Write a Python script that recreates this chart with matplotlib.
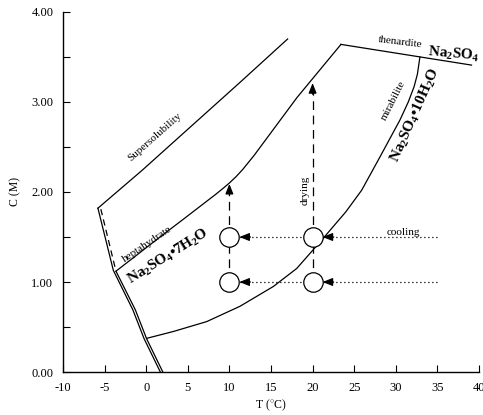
import numpy as np
import matplotlib
matplotlib.use('Agg')
import matplotlib.pyplot as plt

plt.rcParams['font.family'] = ['Liberation Serif', 'DejaVu Serif']
plt.rcParams['mathtext.fontset'] = 'custom'
plt.rcParams['mathtext.rm'] = 'Liberation Serif'
plt.rcParams['mathtext.it'] = 'Liberation Serif:italic'
plt.rcParams['mathtext.bf'] = 'Liberation Serif:bold'
plt.rcParams['axes.unicode_minus'] = False

# curves (T in degC, C in M)
supersol_T = [-5.8, -0.5, 11.3, 17.0]
supersol_C = [1.82, 2.24, 3.22, 3.70]

hepta_T = [-3.63, 1.66, 4.5, 6.47, 8.3, 9.3, 10.0, 10.8, 11.6, 13.0, 14.04, 18.13, 23.41]
hepta_C = [1.12, 1.50, 1.70, 1.84, 1.97, 2.045, 2.10, 2.17, 2.25, 2.41, 2.54, 3.05, 3.64]

thenardite_T = [23.41, 39.1]
thenardite_C = [3.64, 3.41]

mirab_T = [0.06, 3.26, 7.27, 11.27, 15.28, 18.09, 20.09, 21.5, 24.0, 25.9, 28.1, 30.5, 31.5, 32.2, 32.6, 32.9]
mirab_C = [0.374, 0.45, 0.56, 0.73, 0.95, 1.15, 1.36, 1.51, 1.78, 2.02, 2.39, 2.80, 3.00, 3.17, 3.31, 3.50]

ice_T = [-5.8, -3.95, -1.6, -0.25, 1.7]
ice_C = [1.82, 1.13, 0.69, 0.37, 0.0]
ice2_dash_T = [-5.45, -3.63]
ice2_dash_C = [1.81, 1.12]
ice2_T = [-3.63, -1.3, 0.05, 2.0]
ice2_C = [1.12, 0.69, 0.37, 0.0]

# experiment points and paths
circle_T = [10, 10, 20, 20]
circle_C = [1.5, 1.0, 1.5, 1.0]
drying_T = [10, 20]
drying_start = [1.0, 1.0]
drying_end = [2.09, 3.21]
cooling_C = [1.5, 1.0]
cooling_from = 35
cooling_tips = [21.2, 11.2]

fig = plt.figure(figsize=(4.83, 4.15), dpi=100)
ax = fig.add_axes([0.1304, 0.1036, 0.8613, 0.8675])

lw = 0.9
ax.plot(supersol_T, supersol_C, color='black', lw=lw)
ax.plot(hepta_T, hepta_C, color='black', lw=lw)
ax.plot(thenardite_T, thenardite_C, color='black', lw=lw)
ax.plot(mirab_T, mirab_C, color='black', lw=lw)
ax.plot(ice_T, ice_C, color='black', lw=lw)
ax.plot(ice2_T, ice2_C, color='black', lw=lw)
ax.plot(ice2_dash_T, ice2_dash_C, color='black', lw=lw, dashes=(5, 3.5))

head = '-|>,head_length=0.5,head_width=0.2'
for t, c0, c1 in zip(drying_T, drying_start, drying_end):
    ax.plot([t, t], [c0, c1 - 0.05], color='black', lw=lw, dashes=(7, 4.5), zorder=2)
    ax.annotate('', xy=(t, c1), xytext=(0, -8), textcoords='offset points',
                arrowprops=dict(arrowstyle=head, mutation_scale=12, lw=lw,
                                color='black', shrinkA=0, shrinkB=0))

for c in cooling_C:
    ax.plot([cooling_from, cooling_tips[-1]], [c, c], color='black', lw=lw,
            dashes=(1, 2.2), zorder=2)
    for tip in cooling_tips:
        ax.annotate('', xy=(tip, c), xytext=(8, 0), textcoords='offset points',
                    arrowprops=dict(arrowstyle=head, mutation_scale=12, lw=lw,
                                    color='black', shrinkA=0, shrinkB=0), zorder=6)

ax.plot(circle_T, circle_C, 'o', ms=14, mfc='white', mec='black', mew=lw, zorder=5)

# labels on the diagram
small = 8
ax.text(1.06, 2.61, 'Supersolubility', fontsize=small, rotation=41.5,
        ha='center', va='center', rotation_mode='anchor')
ax.text(0.06, 1.42, 'heptahydrate', fontsize=small, rotation=34,
        ha='center', va='center', rotation_mode='anchor')
ax.text(30.5, 3.66, 'thenardite', fontsize=small, rotation=-7,
        ha='center', va='center', rotation_mode='anchor')
ax.text(29.7, 3.02, 'mirabilite', fontsize=small, rotation=63,
        ha='center', va='center', rotation_mode='anchor')
ax.text(19.1, 2.02, 'drying', fontsize=small, rotation=90,
        ha='center', va='center', rotation_mode='anchor')
ax.text(30.9, 1.55, 'cooling', fontsize=small, ha='center', va='center')

big = 11
ax.text(2.7, 1.28, r'Na$_\mathbf{2}$SO$_\mathbf{4}$•7H$_\mathbf{2}$O', fontsize=big,
        fontweight='bold', rotation=32, ha='center', va='center', rotation_mode='anchor')
ax.text(32.4, 2.85, r'Na$_\mathbf{2}$SO$_\mathbf{4}$•10H$_\mathbf{2}$O', fontsize=big,
        fontweight='bold', rotation=66, ha='center', va='center', rotation_mode='anchor')
ax.text(37.0, 3.53, r'Na$_\mathbf{2}$SO$_\mathbf{4}$', fontsize=big,
        fontweight='bold', rotation=-5, ha='center', va='center', rotation_mode='anchor')

ax.set_xlim(-10, 40)
ax.set_ylim(0, 4)
ax.set_xticks(np.arange(-10, 41, 5))
ax.set_yticks([0, 1, 2, 3, 4])
ax.set_yticklabels(['0.00', '1.00', '2.00', '3.00', '4.00'])
ax.set_yticks([0.5, 1.5, 2.5, 3.5], minor=True)
ax.tick_params(which='both', direction='in', length=5, width=0.8, labelsize=9, pad=7)
ax.spines['top'].set_visible(False)
ax.spines['right'].set_visible(False)
ax.spines['left'].set_linewidth(1.0)
ax.spines['bottom'].set_linewidth(1.0)
ax.set_xlabel(r'T ($^{\circ}$C)', fontsize=8.5, labelpad=3)
ax.set_ylabel('C (M)', fontsize=8.5, labelpad=7)

fig.savefig('out.png', dpi=100)
